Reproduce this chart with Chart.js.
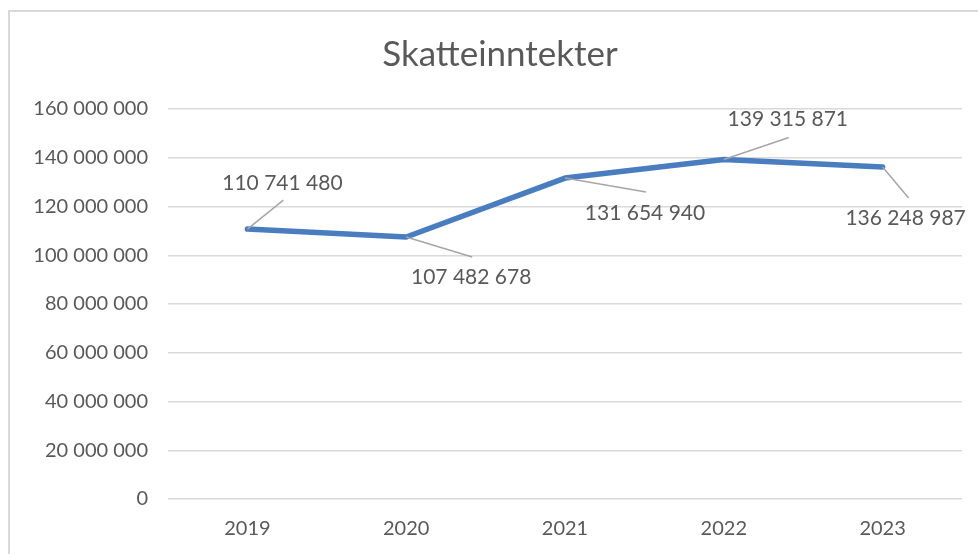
<!DOCTYPE html>
<html>
<head>
<meta charset="utf-8">
<script src="https://cdn.jsdelivr.net/npm/chart.js@4.4.1/dist/chart.umd.min.js"></script>
<style>
  html,body{margin:0;padding:0;background:#fff;}
  #wrap{position:relative;width:978px;height:554px;overflow:hidden;}
  #frame{position:absolute;left:8px;top:10px;width:980px;height:560px;border:2px solid #d9d9d9;box-sizing:border-box;}
  canvas{position:absolute;left:0;top:0;}
</style>
</head>
<body>
<div id="wrap">
  <div id="frame"></div>
  <canvas id="c" width="978" height="554"></canvas>
</div>
<script>
const title = "Skatteinntekter";
const years = ["2019", "2020", "2021", "2022", "2023"];
const taxIncome = [110741480, 107482678, 131654940, 139315871, 136248987];
const yTickMin = 0;
const yTickMax = 160000000;
const yTickStep = 20000000;

const fmt = v => String(Math.round(v)).replace(/\B(?=(\d{3})+(?!\d))/g, " ");
const FONT = "Lato, 'Open Sans', sans-serif";
const TXT = "#595959";

// leader line end and label centre offsets, relative to each point (styling only)
const labelLayout = [
  {lx: 36, ly: -29, tx: 35, ty: -46},
  {lx: 66, ly: 20, tx: 65, ty: 40},
  {lx: 81, ly: 14, tx: 80, ty: 35},
  {lx: 65, ly: -22, tx: 64, ty: -40},
  {lx: 26, ly: 31, tx: 23, ty: 51}
];

const dataLabels = {
  id: "dataLabels",
  afterDatasetsDraw(chart) {
    const ctx = chart.ctx;
    const meta = chart.getDatasetMeta(0);
    const ds = chart.data.datasets[0];
    ctx.save();
    meta.data.forEach((pt, i) => {
      const L = labelLayout[i];
      ctx.strokeStyle = "#a6a6a6";
      ctx.lineWidth = 1.5;
      ctx.beginPath();
      ctx.moveTo(pt.x, pt.y);
      ctx.lineTo(pt.x + L.lx, pt.y + L.ly);
      ctx.stroke();
      ctx.fillStyle = TXT;
      ctx.font = "21px " + FONT;
      ctx.textAlign = "center";
      ctx.textBaseline = "middle";
      ctx.fillText(fmt(ds.data[i]), pt.x + L.tx, pt.y + L.ty);
    });
    ctx.restore();
  }
};

// chart title, centred on the chart frame rather than the padded layout box
const frameTitle = {
  id: "frameTitle",
  afterDraw(chart) {
    const ctx = chart.ctx;
    ctx.save();
    ctx.fillStyle = TXT;
    ctx.font = "35px " + FONT;
    ctx.textAlign = "center";
    ctx.textBaseline = "middle";
    ctx.fillText(title, 500, 55);
    ctx.restore();
  }
};

new Chart(document.getElementById("c"), {
  type: "line",
  data: {
    labels: years,
    datasets: [{
      data: taxIncome,
      borderColor: "#4A7DBF",
      borderWidth: 5.5,
      pointRadius: 0,
      tension: 0,
      borderCapStyle: "round",
      borderJoinStyle: "round"
    }]
  },
  options: {
    responsive: false,
    animation: false,
    layout: {padding: {left: 10, right: 16, top: 109, bottom: 3}},
    plugins: {
      legend: {display: false},
      tooltip: {enabled: false},
      title: {display: false}
    },
    scales: {
      x: {
        offset: true,
        grid: {display: false},
        border: {display: false},
        ticks: {color: TXT, font: {family: FONT, size: 20}, padding: 10}
      },
      y: {
        min: yTickMin,
        max: yTickMax,
        ticks: {
          stepSize: yTickStep,
          color: TXT,
          font: {family: FONT, size: 20},
          padding: 20,
          callback: v => fmt(v)
        },
        grid: {color: "#d9d9d9", lineWidth: 1.5, drawTicks: false},
        border: {display: false},
        afterFit(scale) { scale.width = 158; }
      }
    }
  },
  plugins: [dataLabels, frameTitle]
});
</script>
</body>
</html>
